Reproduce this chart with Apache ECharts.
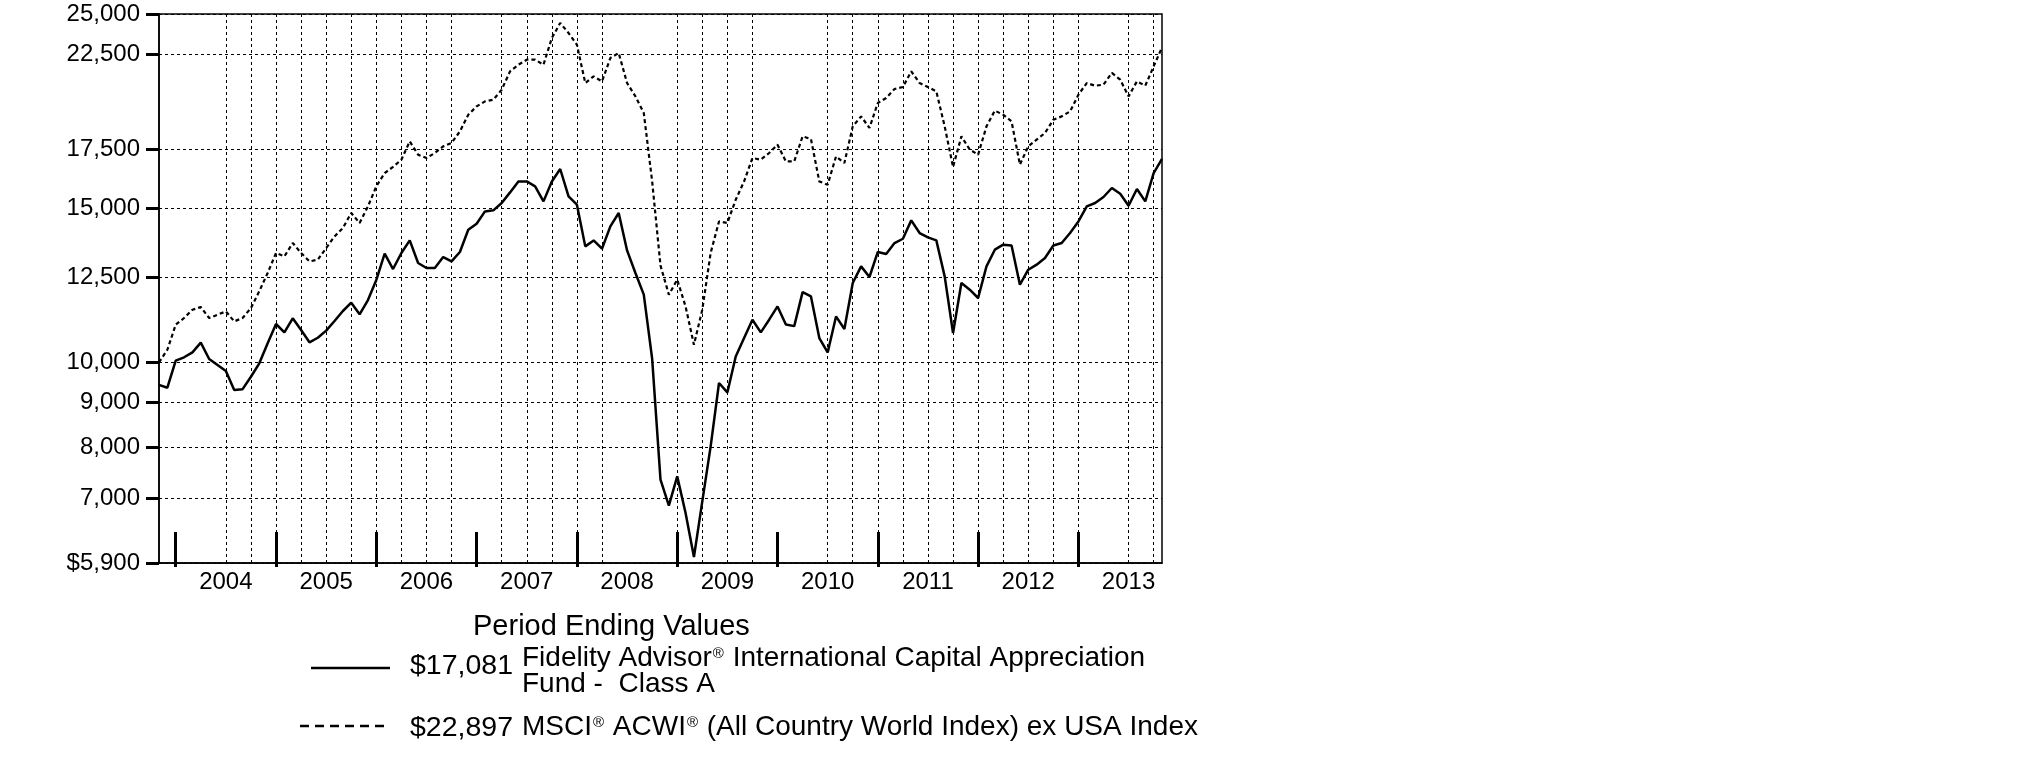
<!DOCTYPE html>
<html>
<head>
<meta charset="utf-8">
<script src="https://cdn.jsdelivr.net/npm/echarts@6/dist/echarts.min.js"></script>
<style>
html,body{margin:0;padding:0;background:#fff;}
#chart{width:2025px;height:773px;}
</style>
</head>
<body>
<div id="chart"></div>
<script>
// Month-end categories, Oct 2003 .. Oct 2013
const months = [];
for (let k = 0; k < 121; k++) {
  const m = (9 + k) % 12;
  const y = 2003 + Math.floor((9 + k) / 12);
  months.push(y + '-' + String(m + 1).padStart(2, '0'));
}

const fundName = ['Fidelity Advisor{r|®} International Capital Appreciation', 'Fund -  Class A'];
const indexName = 'MSCI{r|®} ACWI{r|®} (All Country World Index) ex USA Index';

const fundValues = [
  9425, 9355, 10045, 10135, 10267, 10532, 10090, 9932, 9775, 9299, 9320, 9630,
  9975, 10515, 11062, 10824, 11230, 10890, 10543, 10670, 10870, 11150, 11447, 11700,
  11348, 11780, 12420, 13310, 12783, 13335, 13783, 12987, 12818, 12818, 13193, 13042,
  13370, 14175, 14400, 14875, 14917, 15208, 15638, 16095, 16095, 15888, 15273, 16095,
  16630, 15475, 15140, 13568, 13783, 13485, 14300, 14812, 13425, 12650, 11950, 10100,
  7345, 6860, 7410, 6730, 5993, 6938, 8018, 9473, 9240, 10158, 10662, 11188,
  10820, 11188, 11585, 11050, 11000, 12030, 11895, 10662, 10265, 11285, 10917, 12322,
  12872, 12518, 13370, 13300, 13688, 13843, 14528, 14053, 13892, 13783, 12538, 10803,
  12322, 12108, 11845, 12872, 13450, 13628, 13600, 12267, 12760, 12930, 13158, 13600,
  13688, 14053, 14488, 15072, 15208, 15450, 15820, 15583, 15100, 15778, 15273, 16455,
  17081
];

const indexValues = [
  10000, 10338, 11043, 11238, 11485, 11567, 11238, 11335, 11435, 11138, 11238, 11537,
  12060, 12650, 13335, 13215, 13688, 13335, 13042, 13100, 13510, 13928, 14240, 14812,
  14428, 15072, 15888, 16455, 16720, 17043, 17882, 17268, 17118, 17345, 17650, 17808,
  18358, 19183, 19608, 19865, 19955, 20488, 21498, 21878, 22168, 22168, 21878, 23470,
  24415, 23780, 23060, 20850, 21218, 20938, 22268, 22563, 20850, 20130, 19270, 16100,
  12900, 11948, 12430, 11585, 10475, 11485, 13335, 14488, 14428, 15340, 16095, 17118,
  17043, 17345, 17730, 16965, 16965, 18120, 17995, 16095, 15958, 17190, 16895, 18603,
  19098, 18525, 19783, 20045, 20523, 20633, 21498, 20850, 20633, 20395, 18603, 16720,
  18120, 17500, 17268, 18603, 19388, 19183, 18848, 16820, 17650, 17963, 18280, 18933,
  19098, 19350, 20218, 20850, 20703, 20758, 21408, 21033, 20130, 20938, 20703, 21783,
  22897
];

const yTicks = [5900, 7000, 8000, 9000, 10000, 12500, 15000, 17500, 22500, 25000];
const yearTickMonths = ['2003-12','2004-12','2005-12','2006-12','2007-12','2008-12','2009-12','2010-12','2011-12','2012-12'];
const yearLabelMonths = ['2004-06','2005-06','2006-06','2007-06','2008-06','2009-06','2010-06','2011-06','2012-06','2013-06'];
const gridMonths = ['2004-06','2004-09','2004-12','2005-03','2005-06','2005-09','2005-12','2006-03','2006-06','2006-09',
  '2007-03','2007-06','2007-09','2007-12','2008-03','2008-12','2009-03','2009-06','2009-09',
  '2010-06','2010-09','2010-12','2011-03','2011-06','2011-09','2011-12','2012-03','2012-06','2012-09','2012-12',
  '2013-06','2013-09'];

const FONT = '"Liberation Sans", Arial, Helvetica, sans-serif';
const idx = arr => arr.map(s => months.indexOf(s));
const money = v => '$' + v.toLocaleString('en-US');

const chart = echarts.init(document.getElementById('chart'), null, {renderer: 'canvas'});

const richR = { r: { fontSize: 15, fontFamily: FONT, fill: '#000', verticalAlign: 'top', padding: [2, 1, 0, 1] } };

chart.setOption({
  animation: false,
  backgroundColor: '#fff',
  grid: {
    left: 159, top: 14, width: 1003, height: 549,
    show: true, borderColor: '#000', borderWidth: 1.5, backgroundColor: 'transparent'
  },
  xAxis: [
    {
      type: 'category', data: months, boundaryGap: false, position: 'bottom',
      axisLine: { show: true, lineStyle: { color: '#000', width: 1.5 } },
      axisTick: { show: true, inside: true, length: 31, lineStyle: { color: '#000', width: 3 }, customValues: idx(yearTickMonths) },
      axisLabel: { show: true, customValues: idx(yearLabelMonths), formatter: v => String(v).slice(0, 4),
        fontSize: 24, fontFamily: FONT, color: '#000', margin: 7 },
      splitLine: { show: false }
    },
    {
      type: 'category', data: months, boundaryGap: false, position: 'bottom',
      axisLine: { show: false },
      axisTick: { show: false, customValues: idx(gridMonths) },
      axisLabel: { show: false },
      splitLine: { show: true, lineStyle: { color: '#000', width: 1, type: [3, 3] } }
    },
    {
      type: 'category', data: months, boundaryGap: false, position: 'bottom',
      axisLine: { show: false },
      axisTick: { show: true, inside: false, length: 4, lineStyle: { color: '#000', width: 3 }, customValues: idx(yearTickMonths) },
      axisLabel: { show: false },
      splitLine: { show: false }
    }
  ],
  yAxis: {
    type: 'log', logBase: 10, min: 5900, max: 25000,
    axisLine: { show: true, lineStyle: { color: '#000', width: 1.5 } },
    axisTick: { show: true, inside: false, length: 13, lineStyle: { color: '#000', width: 3 }, customValues: yTicks },
    axisLabel: { show: true, customValues: yTicks, fontSize: 24, fontFamily: FONT, color: '#000', margin: 19,
      formatter: v => (Math.round(v) === 5900 ? '$5,900' : Math.round(v).toLocaleString('en-US')) },
    splitLine: { show: true, lineStyle: { color: '#000', width: 1, type: [3, 3] } }
  },
  series: [
    {
      name: 'Fund', type: 'line', data: fundValues, xAxisIndex: 0, symbol: 'none', z: 4,
      lineStyle: { color: '#000', width: 2.5 }
    },
    {
      name: 'Index', type: 'line', data: indexValues, xAxisIndex: 0, symbol: 'none', z: 3,
      lineStyle: { color: '#000', width: 2.2, type: [4, 3] }
    }
  ],
  graphic: [
    { type: 'text', style: { x: 473, y: 627, text: 'Period Ending Values', fontSize: 29, fontFamily: FONT, fill: '#000', verticalAlign: 'middle' } },
    { type: 'line', shape: { x1: 311, y1: 668, x2: 390, y2: 668 }, style: { stroke: '#000', lineWidth: 2.5 } },
    { type: 'text', style: { x: 410, y: 666, text: money(fundValues[fundValues.length - 1]), fontSize: 28.5, fontFamily: FONT, fill: '#000', verticalAlign: 'middle' } },
    { type: 'text', style: { x: 522, y: 658, text: fundName[0], rich: richR, fontSize: 28, fontFamily: FONT, fill: '#000', verticalAlign: 'middle' } },
    { type: 'text', style: { x: 522, y: 684, text: fundName[1], fontSize: 28, fontFamily: FONT, fill: '#000', verticalAlign: 'middle' } },
    { type: 'line', shape: { x1: 300, y1: 726, x2: 390, y2: 726 }, style: { stroke: '#000', lineWidth: 2.5, lineDash: [9, 6] } },
    { type: 'text', style: { x: 410, y: 728, text: money(indexValues[indexValues.length - 1]), fontSize: 28.5, fontFamily: FONT, fill: '#000', verticalAlign: 'middle' } },
    { type: 'text', style: { x: 522, y: 727, text: indexName, rich: richR, fontSize: 28, fontFamily: FONT, fill: '#000', verticalAlign: 'middle' } }
  ]
});
</script>
</body>
</html>
